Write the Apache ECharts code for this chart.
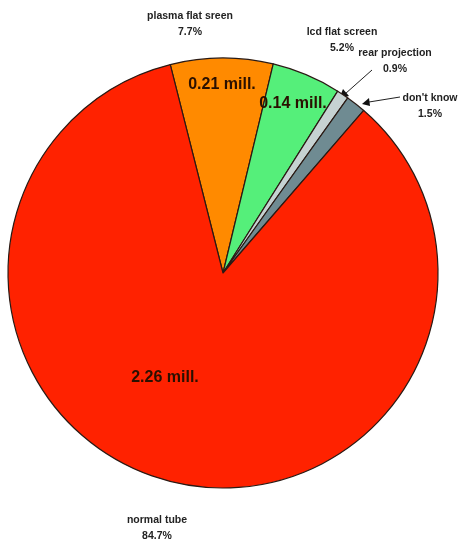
<!DOCTYPE html>
<html>
<head>
<meta charset="utf-8">
<script src="https://cdn.jsdelivr.net/npm/echarts@6/dist/echarts.min.js"></script>
<style>
  html, body { margin: 0; padding: 0; background: #ffffff; }
  #chart { width: 464px; height: 542px; }
</style>
</head>
<body>
<div id="chart"></div>
<script>
// TV sets by display type: share in percent and volume in millions
const categories = ['plasma flat sreen', 'lcd flat screen', 'rear projection', "don't know", 'normal tube'];
const shares = [7.7, 5.2, 0.9, 1.5, 84.7];
const millions = ['0.21 mill.', '0.14 mill.', '', '', '2.26 mill.'];
const colors = ['#ff8a00', '#55ef7a', '#c6d2d2', '#6f8b92', '#ff2200'];

// label anchor points for the category captions
const captionPos = [[190, 24], [342, 40], [395, 61], [430, 106], [157, 528]];
// label anchor points for the volume captions
const volumePos = [[222, 85], [293, 104], null, null, [165, 378]];

const chart = echarts.init(document.getElementById('chart'), null, { renderer: 'canvas' });

const data = categories.map((name, i) => ({
  name,
  value: shares[i],
  itemStyle: { color: colors[i] }
}));

const font = '"Liberation Sans", Arial, sans-serif';

chart.setOption({
  animation: false,
  backgroundColor: '#ffffff',
  series: [
    {
      type: 'pie',
      center: [223, 273],
      radius: 215,
      startAngle: 104.2,
      clockwise: true,
      data,
      itemStyle: { borderColor: '#2a1a14', borderWidth: 1.2 },
      label: {
        show: true,
        position: 'inside',
        overflow: 'none',
        formatter: p => p.name + '\n' + p.value.toFixed(1) + '%',
        fontFamily: font,
        fontSize: 10.5,
        fontWeight: 'bold',
        color: '#222',
        lineHeight: 16,
        align: 'center'
      },
      labelLine: { show: false },
      labelLayout: p => ({
        x: captionPos[p.dataIndex][0],
        y: captionPos[p.dataIndex][1],
        align: 'center',
        verticalAlign: 'middle'
      }),
      emphasis: { disabled: true },
      silent: true
    },
    {
      type: 'pie',
      center: [223, 273],
      radius: 215,
      startAngle: 104.2,
      clockwise: true,
      data: categories.map((name, i) => ({ name, value: shares[i] })),
      itemStyle: { color: 'rgba(0,0,0,0)', borderWidth: 0 },
      label: {
        show: true,
        position: 'inside',
        overflow: 'none',
        formatter: p => millions[p.dataIndex],
        fontFamily: font,
        fontSize: 16,
        fontWeight: 'bold',
        color: '#2a1000'
      },
      labelLine: { show: false },
      labelLayout: p => volumePos[p.dataIndex] ? {
        x: volumePos[p.dataIndex][0],
        y: volumePos[p.dataIndex][1],
        align: 'center',
        verticalAlign: 'middle'
      } : { x: -100, y: -100 },
      emphasis: { disabled: true },
      silent: true
    }
  ],
  graphic: [
    // pointer arrows for the two thin slices
    { type: 'line', shape: { x1: 372, y1: 70, x2: 345, y2: 94 }, style: { stroke: '#222', lineWidth: 1 } },
    { type: 'polygon', shape: { points: [[339, 99], [343, 89], [349, 96]] }, style: { fill: '#111' } },
    { type: 'line', shape: { x1: 400, y1: 97, x2: 369, y2: 102 }, style: { stroke: '#222', lineWidth: 1 } },
    { type: 'polygon', shape: { points: [[362, 104], [369, 98], [370, 106]] }, style: { fill: '#111' } }
  ]
});
</script>
</body>
</html>
